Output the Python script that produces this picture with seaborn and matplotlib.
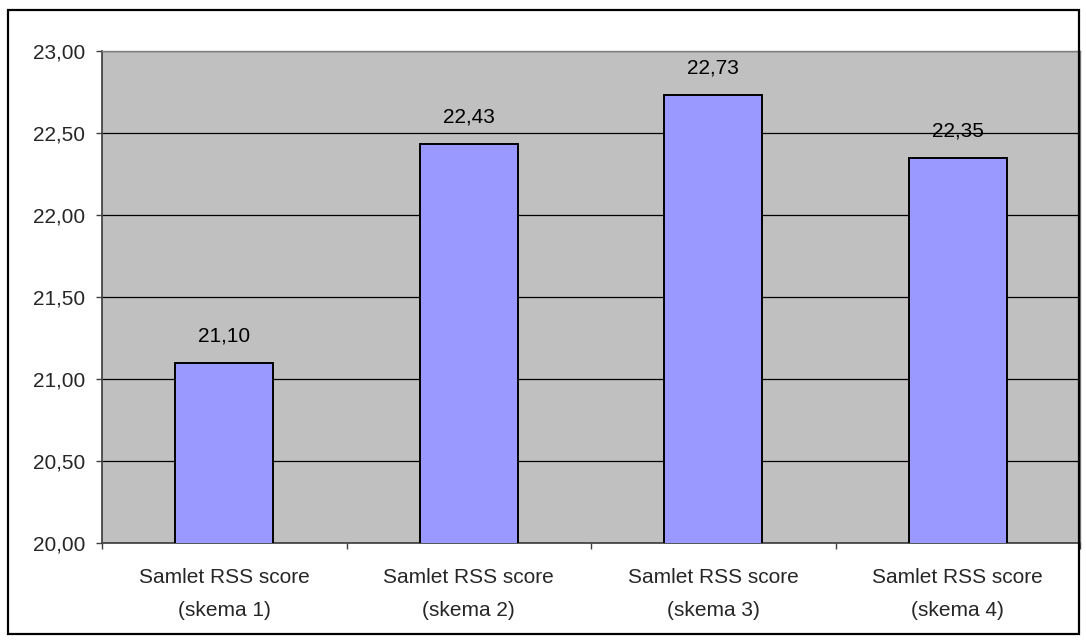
import matplotlib
matplotlib.use("Agg")
import matplotlib.pyplot as plt
import matplotlib.ticker as mticker
from matplotlib.patches import Rectangle
import pandas as pd
import seaborn as sns

# data
categories = ["Samlet RSS score\n(skema 1)", "Samlet RSS score\n(skema 2)",
              "Samlet RSS score\n(skema 3)", "Samlet RSS score\n(skema 4)"]
scores = [21.10, 22.43, 22.73, 22.35]
y_ticks = [20.0, 20.5, 21.0, 21.5, 22.0, 22.5, 23.0]

df = pd.DataFrame({"kategori": categories, "score": scores})

sns.set_theme(style="white")
plt.rcParams["font.family"] = ["Liberation Sans", "DejaVu Sans"]

W, H = 1086, 641
FS = 15
fig = plt.figure(figsize=(W / 100, H / 100), dpi=100)
ax = fig.add_axes([102 / W, 1 - 543 / H, (1080 - 102) / W, (543 - 51) / H])
ax.set_facecolor("#C0C0C0")

sns.barplot(data=df, x="kategori", y="score", color="#9999FF", saturation=1,
            width=0.4, edgecolor="black", linewidth=1.4, ax=ax, zorder=3)

ax.set_ylim(20.0, 23.0)
ax.set_xlim(-0.5, len(categories) - 0.5)
ax.set_yticks(y_ticks)
ax.yaxis.set_major_formatter(mticker.FuncFormatter(lambda v, p: f"{v:.2f}".replace(".", ",")))
ax.grid(axis="y", color="black", linewidth=0.9, zorder=1)
ax.set_axisbelow(True)

# category labels drawn as text so the line spacing can be widened (Excel style)
ax.tick_params(axis="x", which="major", length=0, labelbottom=False)
for i, cat in enumerate(categories):
    ax.annotate(cat, xy=(i, 0), xycoords=ax.get_xaxis_transform(),
                xytext=(0, -18), textcoords="offset points",
                ha="center", va="top", fontsize=FS, linespacing=1.9)
# category boundary ticks
ax.set_xticks([i - 0.5 for i in range(len(categories) + 1)], minor=True)
ax.tick_params(axis="x", which="minor", length=4, width=1, color="#404040", direction="out", bottom=True)
ax.tick_params(axis="y", length=4, width=1, color="#404040", direction="out", left=True, labelsize=FS, pad=8)
ax.set_xlabel("")
ax.set_ylabel("")

for side in ["top", "right"]:
    ax.spines[side].set_color("#808080")
    ax.spines[side].set_linewidth(1)
ax.spines["left"].set_color("#404040")
ax.spines["bottom"].set_color("#404040")
for s in ax.spines.values():
    s.set_visible(True)

for i, v in enumerate(scores):
    ax.text(i, v + 0.165, f"{v:.2f}".replace(".", ","), ha="center", va="center",
            fontsize=FS, color="black", zorder=4)

# outer chart border
fig.patches.append(Rectangle((8 / W, 1 - 634 / H), (1079 - 8) / W, (634 - 10) / H,
                             transform=fig.transFigure, fill=False,
                             edgecolor="black", linewidth=1.6))

fig.savefig("out.png", dpi=100)
